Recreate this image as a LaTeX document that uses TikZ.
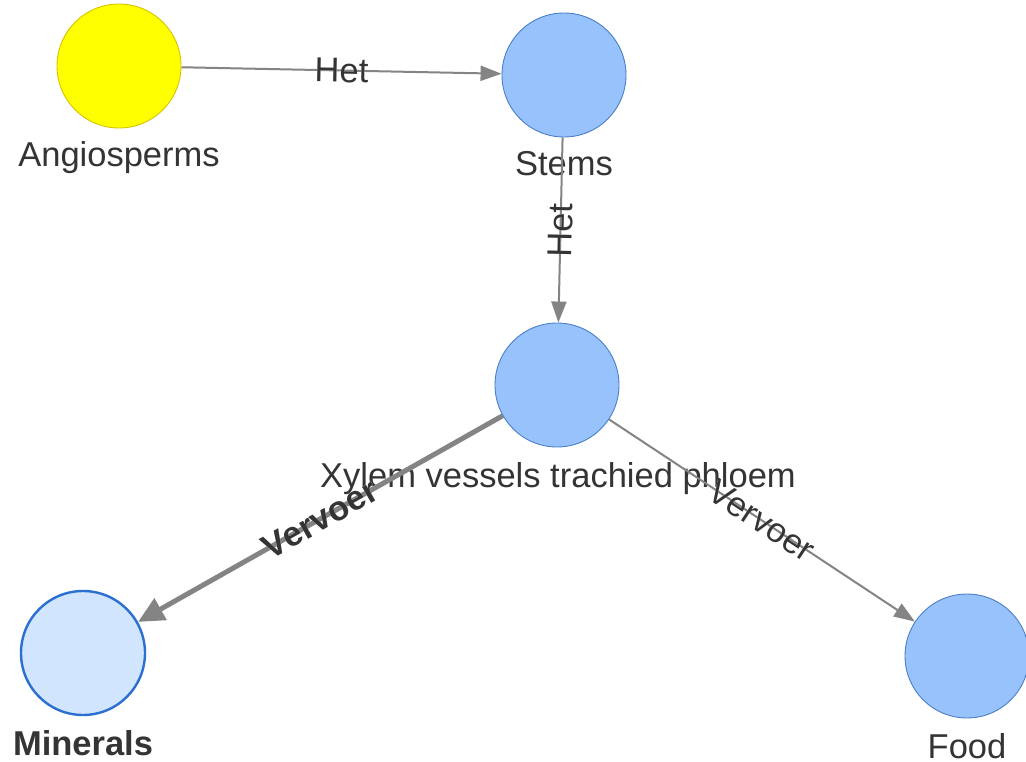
\documentclass[tikz,border=0pt]{standalone}
\usepackage{fontspec}
\setmainfont{Liberation Sans}
\usepackage[outline]{contour}
\contourlength{2.2pt}
\usetikzlibrary{arrows.meta}

\definecolor{nodeblue}{HTML}{97C2FC}
\definecolor{nodeborder}{HTML}{4A7FC8}
\definecolor{selfill}{HTML}{D2E5FF}
\definecolor{selborder}{HTML}{2B6FD0}
\definecolor{edgegray}{HTML}{848484}
\definecolor{labeltext}{HTML}{343434}
\definecolor{sunyellow}{HTML}{FFFF00}
\definecolor{sunborder}{HTML}{D8C200}

\newcommand{\haloed}[1]{\contour{white}{#1}}

\begin{document}
\begin{tikzpicture}[x=1pt,y=-1pt,
  concept/.style={circle, minimum size=124pt, inner sep=0pt, fill=nodeblue,
    draw=nodeborder, line width=0.9pt},
  rootconcept/.style={concept, fill=sunyellow, draw=sunborder},
  picked/.style={concept, fill=selfill, draw=selborder, line width=2.4pt},
  caption/.style={font=\fontsize{34.5}{41}\selectfont, text=labeltext,
    anchor=base, inner sep=0pt},
  link/.style={draw=edgegray, line width=2pt,
    -{Triangle[length=21pt,width=15pt]}},
  strong link/.style={draw=edgegray, line width=5pt,
    -{Triangle[length=26pt,width=24pt]}},
  linklabel/.style={font=\fontsize{34.5}{41}\selectfont, text=labeltext,
    inner sep=1pt, sloped, midway}
]
\fill[white] (0,0) rectangle (1026,762);
\useasboundingbox (0,0) rectangle (1026,762);

% concept circles
\node[rootconcept] (ang)   at (119,66)  {};
\node[concept]     (stems) at (564,75)  {};
\node[concept]     (xyl)   at (557,385) {};
\node[picked]      (min)   at (83,653)  {};
\node[concept]     (food)  at (967,656) {};

% captions under the circles
\node[caption] (angcap)   at (119,167) {Angiosperms};
\node[caption] (stemscap) at (564,176) {Stems};
\node[caption] (xylcap)   at (558,487) {Xylem vessels trachied phloem};
\node[caption, font=\fontsize{34.5}{41}\selectfont\bfseries] (mincap) at (83,755) {Minerals};
\node[caption] (foodcap)  at (967,758) {Food};

% relations
\draw[link] (ang) -- node[linklabel] (l1) {\haloed{Het}} (stems);
\draw[link] (stems) -- node[linklabel] (l2) {\haloed{Het}} (xyl);
\draw[strong link] (xyl) -- node[linklabel, font=\fontsize{34.5}{41}\selectfont\bfseries] (l3) {\haloed{Vervoer}} (min);
\draw[link] (xyl) -- node[linklabel] (l4) {\haloed{Vervoer}} (food);
\end{tikzpicture}
\end{document}
